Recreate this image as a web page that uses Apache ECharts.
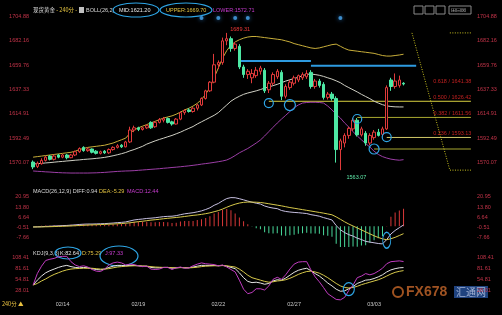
<!DOCTYPE html>
<html><head><meta charset="utf-8">
<script src="https://cdn.jsdelivr.net/npm/echarts@6/dist/echarts.min.js"></script>
<style>html,body{margin:0;padding:0;background:#000;}#c{width:502px;height:315px;}</style>
</head><body><div id="c"></div>
<script>
// ---------- DATA ----------
const slotCount = 105;
const dateTickIdx = [7, 25, 44, 62, 81];
const dateTickLabels = ['02/14', '02/19', '02/22', '02/27', '03/03'];

// candles: [open, close, low, high]
const candles = [
[1570.5,1566,1564,1572],[1566.5,1569.5,1565,1571],[1569,1572,1568,1574],[1572,1575,1571,1576],
[1576,1573,1572,1577],[1573,1576,1572,1577.5],[1577,1575,1574,1578],[1575,1577,1574,1578],
[1577,1574.5,1573,1578],[1574.5,1577,1574,1578],[1577,1580,1576,1581],[1580,1583,1579,1584],
[1584,1581,1580,1585],[1581,1582.5,1580,1584],[1582.5,1579.5,1578.5,1583],[1580.5,1578.5,1577.5,1581.5],
[1578.5,1580,1577.5,1581],[1580.5,1579,1578,1581.5],[1579,1582,1578,1583],[1582,1584,1581,1585],
[1584,1585.5,1583,1587],[1586,1584.5,1583.5,1587],[1584.5,1589,1584,1590],[1589,1600,1588,1603],
[1600,1602,1598,1604],[1602,1600.5,1599,1603],[1600.5,1602,1599.5,1603],[1602,1604,1601,1605],
[1607,1602,1601,1608],[1603,1607,1602,1608],[1607,1609.5,1606,1611],[1609,1610.5,1607,1612],
[1610.5,1607,1606,1611.5],[1607.5,1605.5,1604,1608.5],[1605.5,1610,1605,1611],[1610,1616,1609,1617],
[1616,1618,1614,1619],[1618.5,1617,1616,1620],[1617,1620,1616,1621],[1620,1623,1618,1624],
[1623,1629,1622,1630],[1629,1636,1628,1637],[1636,1644,1635,1645],[1644,1660,1643,1670],
[1660,1662,1656,1664],[1662,1682,1660,1685],[1682,1684,1678,1689.31],[1684,1675,1672,1686],
[1675,1679,1673,1681],[1677,1658,1656,1679],[1658,1651,1648,1660],[1651,1654,1647,1656],
[1648,1652,1643,1656],[1650,1655,1648,1658],[1654,1657,1651,1659],[1655,1636,1634,1657],
[1637,1643,1634,1645],[1643,1651,1641,1653],[1649,1654,1647,1656],[1653,1631,1627.5,1655],
[1631,1640,1629,1642],[1639,1644,1637,1646],[1643,1648,1641,1650],[1646,1650,1644,1651],
[1648,1651,1646,1653],[1649,1652,1647,1655],[1653,1640,1638,1655],[1640,1645,1638,1647],
[1645,1641,1639,1647],[1642,1630,1628,1644],[1630,1633,1628,1635],[1633,1629,1627,1635],
[1629,1582,1570,1631],[1582,1590,1563.07,1592],[1588,1595,1584,1597],[1595,1601.5,1592,1603],
[1601,1609,1599,1611],[1609,1595.5,1594,1611],[1595.5,1601,1594,1603],[1597,1588,1585.5,1599],
[1588,1595,1586,1597],[1593,1598,1591,1600],[1598,1595,1594,1601],[1596,1601,1594,1603],
[1601,1639,1600,1641],[1646,1640,1636,1648],[1640,1645,1638,1652],[1641,1646,1639,1650],
[1643,1642.3,1641,1644]
];

const bollUpper = [1575,1575.5,1576,1576.5,1577,1577.5,1578,1578.5,1579,1579.5,1580.5,1582,1583,1584,1584.5,1585,1585.5,1586,1587,1588,1589.5,1591,1592.5,1597,1600,1602,1603.5,1605,1606.5,1608,1609.5,1611,1612,1613,1614.5,1616.5,1618.5,1620,1622,1624.5,1628,1633,1639,1648,1657,1666,1673,1678,1681,1683,1684.5,1685.5,1686,1686,1685.5,1685,1684.5,1684,1683.5,1683,1682,1681,1679.5,1678.5,1677.5,1676.5,1675.5,1675,1675.5,1676.5,1677.5,1678.5,1679,1677,1675,1673.5,1673,1672.5,1672,1671.5,1671,1670.5,1669.5,1668.5,1668,1668,1668.5,1669,1669.7];
const bollMid = [1568.7,1569,1569.3,1569.7,1570,1570.4,1570.8,1571.1,1571.5,1571.8,1572.2,1572.5,1572.9,1573.2,1573.5,1573.9,1574.3,1574.8,1575.5,1576.3,1577.2,1578.2,1579.3,1580.8,1582,1583.5,1585,1587,1588.5,1590,1591.3,1592.5,1593.8,1595,1596.5,1598,1599.8,1601.5,1603.2,1605.5,1607.5,1609.5,1611.5,1613.5,1616,1619.5,1623,1626.5,1629,1631,1632.8,1634,1635,1636,1637.2,1638.5,1639.6,1640.8,1642,1643.5,1645,1646.2,1647.3,1648.5,1650,1651.2,1651.5,1651,1650.3,1649.3,1648,1646.8,1645.2,1643.5,1641,1639,1637,1635,1632.8,1630.8,1628.8,1626.5,1624.8,1623.3,1622.2,1621.6,1621.3,1621.2,1621.2];
const bollLower = [1562.3,1562,1561.8,1561.5,1561.3,1561,1560.8,1560.6,1560.5,1560.4,1560.4,1560.4,1560.4,1560.4,1560.5,1560.6,1560.8,1561,1561.3,1561.6,1561.9,1562.1,1562.3,1562.4,1562.6,1562.9,1563.2,1563.5,1563.8,1564.1,1564.4,1564.8,1565.1,1565.5,1565.8,1566.2,1566.6,1567,1567.5,1568,1568.6,1569.1,1569.6,1570.2,1570.8,1571.5,1572.4,1574.2,1576.5,1579,1581,1583,1585.5,1588,1590.8,1594.5,1598.5,1602.5,1606.4,1610,1613.5,1617,1620.5,1623,1624.8,1625.3,1625.5,1625.5,1625.3,1624.8,1622,1618.5,1614.5,1611,1606.5,1602.7,1598.5,1594.5,1591,1587.5,1584.3,1580.5,1577.5,1575.5,1574.2,1573.2,1572.6,1572.2,1572.71];

const macdDiff = [-0.5,-0.4,-0.3,-0.1,0,0.2,0.3,0.5,0.6,0.8,1.0,1.3,1.5,1.6,1.6,1.7,1.8,1.9,2.1,2.3,2.6,2.8,3.1,3.8,4.5,4.9,5.2,5.6,5.8,6.1,6.5,6.9,7.1,7.2,7.6,8.3,8.9,9.3,9.7,10.3,11.0,12.0,13.2,15.0,16.3,18.2,19.8,20.5,20.4,19.7,18.9,18.0,17.2,16.5,15.9,14.5,13.6,13.0,12.6,11.3,10.6,10.2,9.9,9.7,9.4,9.1,8.3,7.8,7.2,6.2,5.4,4.5,0.5,-2.5,-4.5,-6,-7,-8.5,-9.5,-10.8,-11.3,-11.8,-12.3,-12.6,-9.5,-5.5,-3.0,-1.0,0.94];
const macdDea = [-0.5,-0.48,-0.44,-0.38,-0.3,-0.2,-0.1,0,0.1,0.25,0.4,0.55,0.7,0.85,1.0,1.1,1.2,1.35,1.5,1.6,1.8,1.95,2.2,2.5,2.9,3.3,3.6,4.0,4.4,4.7,5.0,5.4,5.7,6.0,6.3,6.6,7.0,7.4,7.8,8.1,8.5,9.0,9.6,10.4,11.2,12.3,13.6,14.8,15.8,16.6,17.1,17.3,17.3,17.2,17.0,16.6,16.1,15.6,15.1,14.6,14.0,13.4,12.9,12.4,11.9,11.4,10.9,10.4,9.9,9.4,8.8,8.2,6.7,5.0,3.2,1.6,0.2,-1.2,-2.6,-4.0,-5.4,-6.8,-8.0,-9.0,-9.6,-8.9,-7.9,-6.6,-5.29];
const macdHist = [0,0.2,0.3,0.5,0.6,0.8,0.8,1,1,1.1,1.2,1.5,1.6,1.5,1.2,1.2,1.2,1.1,1.2,1.4,1.6,1.7,1.8,2.6,3.2,3.2,3.2,3.2,2.8,2.8,3,3,2.8,2.4,2.6,3.4,3.8,3.8,3.8,4.4,5,6,7.2,9.2,10.2,11.8,12.4,11.4,9.2,6.2,3.6,1.4,-0.2,-1.4,-2.2,-4.2,-5,-5.2,-5,-6.6,-6.8,-6.4,-6,-5.4,-5,-4.6,-5.2,-5.2,-5.4,-6.4,-6.8,-7.4,-12.4,-15,-15.4,-15.2,-14.4,-14.6,-13.8,-13.6,-11.8,-10,-8.6,-7.2,0.2,6.8,9.8,11.2,12.44];

const kdjK = [40,52,62,70,75,79,83,86,88,85,83,82,83,82,80,78,77,79,83,86,88,88,87,88,88,87,86,86,83,82,82,83,83,81,82,83,82,82,84,86,88,88,88,88,87,88,86,83,80,70,58,49,46,47,45,42,44,50,53,52,57,64,71,76,79,81,75,68,62,54,45,38,30,25,26,31,36,44,48,52,53,56,60,65,72,77,80,82,82.64];
const kdjD = [40,44,50,55,61,66,70,74,77,79,80,80.5,81,81,81,80,79,79,80,82,84,85,86,86.5,87,87,86.5,86,85,84,83.5,83,83,82.5,82,82.5,82.5,82,82.5,83.5,85,86,86.5,87,87,87.5,87,85.5,84,79,72,64,58,55,52,49,47,48,50,51,53,56.5,61,66,70,73,74,72,69,64,58,51,44,38,34,33,34,37,41,44,47,50,53,57,62,67,71,73.5,75.29];
const kdjJ = [40,68,86,100,103,105,109,110,110,97,89,85,87,84,78,74,73,79,89,94,96,94,89,91,90,87,85,86,79,78,79,83,83,78,82,84,81,82,87,91,94,92,91,90,87,89,84,78,72,52,30,19,22,31,31,28,38,54,59,54,65,79,91,96,97,97,77,60,48,34,19,12,5,4,10,27,40,58,62,68,65,68,74,81,92,97,98,99,97.33];

// axis tick texts
const mainTickLabels = ['', '1570.07', '1592.49', '1614.91', '1637.33', '1659.76', '1682.16', '1704.88'];
const macdTickLabels = ['', '-7.66', '-0.51', '6.64', '13.80', '20.95'];
const kdjTickLabels = ['', '28.01', '54.81', '81.61', '108.41'];

// annotations
const eventIdx = [40, 44, 48, 51, 73];
const fibNames = ['0.618', '0.500', '0.382', '0.236'];
const fibValues = [1641.38, 1626.42, 1611.56, 1593.13];
const fibFrom = [null, 56, 77, 84];
const fibColors = [null, '#d8d040', '#a8a830', '#d0c868'];
const extraLevel = {value: 1582.5, from: 81, color: '#a8a830'};
const blueLevels = [{value: 1663.4, from: 49, to: 66}, {value: 1659.1, from: 66, to: 91}];
const fibSwing = {highIdx: 90, high: 1689.31, lowIdx: 99, low: 1563.07, endIdx: 104};
const circleMarks = [[56, 1624.8, 9], [61, 1622.9, 11], [77, 1610.1, 9], [84, 1593.5, 9], [81, 1582.5, 10]];
const highMark = {idx: 46, value: 1689.31};
const lowMark = {idx: 73, value: 1563.07};

// ---------- CHART ----------
const chart = echarts.init(document.getElementById('c'), null, {renderer: 'canvas'});
const cats = Array.from({length: slotCount}, (_, i) => String(i));
const FONT = 'Liberation Sans, Arial, sans-serif';
const CJK = 'Noto Sans CJK SC';
const labelRed = '#c23348';
const circleBlue = '#2ea6e6';
const lastSlot = slotCount - 1;

function tickFormatter(min, step, labels) {
  return function (v) {
    const k = Math.round((v - min) / step);
    if (Math.abs(v - (min + k * step)) > step * 0.05) return '';
    return labels[k] || '';
  };
}
function yAx(gridIndex, pos, min, max, step, labels) {
  return {
    type: 'value', gridIndex, position: pos, min, max, interval: step, scale: true,
    axisLine: {show: false}, axisTick: {show: false}, splitLine: {show: false},
    axisLabel: {color: labelRed, fontSize: 5.5, fontFamily: FONT, margin: pos === 'left' ? 2 : 4,
      formatter: tickFormatter(min, step, labels)}
  };
}
function xAx(gridIndex, showLabel) {
  return {
    type: 'category', gridIndex, data: cats, boundaryGap: true,
    axisLine: {show: false}, axisTick: {show: false}, splitLine: {show: false},
    axisLabel: {show: showLabel, interval: 0, color: '#c8c8c8', fontSize: 5.5, fontFamily: FONT, margin: 0,
      formatter: (v, i) => { const k = dateTickIdx.indexOf(i); return k >= 0 ? dateTickLabels[k] : ''; }}
  };
}
const segLine = (pts, color, width, type) => ({
  type: 'line', xAxisIndex: 0, yAxisIndex: 0, data: pts, symbol: 'none', silent: true, z: 2,
  lineStyle: {color, width, type: type || 'solid'}, itemStyle: {color}
});

const levelSeries = [];
fibValues.forEach((v, k) => { if (fibFrom[k] != null) levelSeries.push(segLine([[fibFrom[k], v], [lastSlot, v]], fibColors[k], 1)); });
levelSeries.push(segLine([[extraLevel.from, extraLevel.value], [lastSlot, extraLevel.value]], extraLevel.color, 1));
blueLevels.forEach(b => levelSeries.push(segLine([[b.from, b.value], [b.to, b.value]], '#2e9be0', 2)));
const dotType = [1, 1.5];
levelSeries.push(segLine([[fibSwing.highIdx, fibSwing.high], [fibSwing.lowIdx, fibSwing.low], [fibSwing.endIdx, fibSwing.low]], '#c8c020', 1, dotType));
levelSeries.push(segLine([[fibSwing.lowIdx, fibSwing.high], [fibSwing.endIdx, fibSwing.high]], '#c8c020', 1, dotType));
// fib level labels
levelSeries.push({
  type: 'scatter', xAxisIndex: 0, yAxisIndex: 0, silent: true, symbolSize: 1, z: 6,
  itemStyle: {color: 'rgba(0,0,0,0)'},
  data: fibValues.map((v, k) => ({value: [lastSlot, v], name: fibNames[k]})),
  label: {show: true, position: 'left', distance: 0, offset: [1, -4], color: '#f02828', fontSize: 5.5, fontFamily: FONT,
    formatter: p => p.name + ' / ' + p.value[1].toFixed(2)}
});

const ringStyle = {color: 'rgba(0,0,0,0)', borderColor: circleBlue, borderWidth: 1.2};
const mpData = circleMarks.map(c => ({coord: [c[0], c[1]], symbol: 'circle', symbolSize: c[2], itemStyle: ringStyle, label: {show: false}}));
mpData.push({coord: [highMark.idx, highMark.value], symbol: 'circle', symbolSize: 1, itemStyle: {color: 'rgba(0,0,0,0)'},
  label: {show: true, formatter: highMark.value.toFixed(2), color: '#f03838', fontSize: 5.5, fontFamily: FONT, position: 'right', offset: [-2, -3]}});
mpData.push({coord: [lowMark.idx, lowMark.value], symbol: 'circle', symbolSize: 1, itemStyle: {color: 'rgba(0,0,0,0)'},
  label: {show: true, formatter: lowMark.value.toFixed(2), color: '#5ee8a8', fontSize: 5.5, fontFamily: FONT, position: 'bottom', offset: [16, -1]}});

const lineS = (name, data, color, xi, yi, extra) => Object.assign({
  name, type: 'line', data, xAxisIndex: xi, yAxisIndex: yi, symbol: 'none', smooth: false,
  lineStyle: {color, width: 1}, itemStyle: {color}, silent: true, z: 3
}, extra || {});

const option = {
  backgroundColor: '#000',
  animation: false,
  grid: [
    {left: 31, right: 29, top: 11.5, height: 175.4},
    {left: 31, right: 29, top: 194.1, height: 52.9},
    {left: 31, right: 29, top: 254.3, height: 46.7}
  ],
  xAxis: [xAx(0, false), xAx(1, false), xAx(2, true)],
  yAxis: [
    yAx(0, 'left', 1547.65, 1709, 22.42, mainTickLabels),
    yAx(0, 'right', 1547.65, 1709, 22.42, mainTickLabels),
    yAx(1, 'left', -14.81, 23, 7.15, macdTickLabels),
    yAx(1, 'right', -14.81, 23, 7.15, macdTickLabels),
    yAx(2, 'left', 1.21, 115, 26.8, kdjTickLabels),
    yAx(2, 'right', 1.21, 115, 26.8, kdjTickLabels)
  ],
  series: [
    {type: 'candlestick', data: candles, xAxisIndex: 0, yAxisIndex: 0, barWidth: 3, z: 4,
     itemStyle: {color: '#000', color0: '#4de8a4', borderColor: '#e03a3a', borderColor0: '#4de8a4', borderWidth: 1},
     markPoint: {silent: true, data: mpData, animation: false}},
    lineS('upper', bollUpper, '#c8ae3a', 0, 0),
    lineS('mid', bollMid, '#cfcfc4', 0, 0),
    lineS('lower', bollLower, '#9c3ea6', 0, 0),
    ...levelSeries,
    {type: 'scatter', xAxisIndex: 0, yAxisIndex: 0, data: eventIdx.map(i => [i, 1703]), symbolSize: 4,
     itemStyle: {color: '#4aa8f0', shadowColor: '#2a80d0', shadowBlur: 4}, silent: true},
    {type: 'bar', data: macdHist.map(v => ({value: v, itemStyle: {color: v >= 0 ? '#d83838' : '#48d89a'}})),
     xAxisIndex: 1, yAxisIndex: 2, barWidth: 1, silent: true},
    lineS('diff', macdDiff, '#c6bfe0', 1, 2),
    lineS('dea', macdDea, '#d6c84a', 1, 2, {markPoint: {silent: true, data: [{coord: [84, -10], symbol: 'circle', symbolSize: [8, 16], itemStyle: ringStyle}]}}),
    lineS('K', kdjK, '#e4e4e4', 2, 4, {markPoint: {silent: true, data: [{coord: [75, 30], symbol: 'circle', symbolSize: [11, 13], itemStyle: ringStyle}]}}),
    lineS('D', kdjD, '#d6c84a', 2, 4),
    lineS('J', kdjJ, '#c03cc0', 2, 4)
  ],
  graphic: [
    {type: 'text', x: 33, y: 10, style: {
      text: '{w|现货黄金}{y| - 240分 - }', fontSize: 5.5, verticalAlign: 'middle',
      rich: {w: {fill: '#d8d8d8', fontSize: 5.5, fontFamily: CJK}, y: {fill: '#e0c040', fontSize: 5.5, fontFamily: CJK}}}},
    {type: 'rect', shape: {x: 79, y: 7, width: 5, height: 6}, style: {fill: '#c0c0c0'}},
    {type: 'text', x: 86, y: 10, style: {text: 'BOLL(26,2)', fill: '#d8d8d8', fontSize: 5.5, fontFamily: FONT, verticalAlign: 'middle'}},
    {type: 'text', x: 119, y: 10, style: {text: 'MID:1621.20', fill: '#e8e8e8', fontSize: 5.5, fontFamily: FONT, verticalAlign: 'middle'}},
    {type: 'text', x: 166, y: 10, style: {text: 'UPPER:1669.70', fill: '#e0c040', fontSize: 5.5, fontFamily: FONT, verticalAlign: 'middle'}},
    {type: 'text', x: 213, y: 10, style: {text: 'LOWER:1572.71', fill: '#c83cd0', fontSize: 5.5, fontFamily: FONT, verticalAlign: 'middle'}},
    {type: 'ellipse', shape: {cx: 136, cy: 10, rx: 23, ry: 7}, style: {fill: 'none', stroke: circleBlue, lineWidth: 1.2}},
    {type: 'ellipse', shape: {cx: 186, cy: 10, rx: 26, ry: 7}, style: {fill: 'none', stroke: circleBlue, lineWidth: 1.2}},
    {type: 'text', x: 33, y: 191, style: {text: 'MACD(26,12,9) DIFF:0.94', fill: '#d8d8d8', fontSize: 5.5, fontFamily: FONT, verticalAlign: 'middle'}},
    {type: 'text', x: 99, y: 191, style: {text: 'DEA:-5.29', fill: '#e0c040', fontSize: 5.5, fontFamily: FONT, verticalAlign: 'middle'}},
    {type: 'text', x: 127, y: 191, style: {text: 'MACD:12.44', fill: '#c83cd0', fontSize: 5.5, fontFamily: FONT, verticalAlign: 'middle'}},
    {type: 'text', x: 33, y: 253, style: {text: 'KDJ(9,3,3)', fill: '#d8d8d8', fontSize: 5.5, fontFamily: FONT, verticalAlign: 'middle'}},
    {type: 'text', x: 60, y: 253, style: {text: 'K:82.64', fill: '#e8e8e8', fontSize: 5.5, fontFamily: FONT, verticalAlign: 'middle'}},
    {type: 'text', x: 82, y: 253, style: {text: 'D:75.29', fill: '#e0c040', fontSize: 5.5, fontFamily: FONT, verticalAlign: 'middle'}},
    {type: 'text', x: 105, y: 253, style: {text: 'J:97.33', fill: '#c83cd0', fontSize: 5.5, fontFamily: FONT, verticalAlign: 'middle'}},
    {type: 'ellipse', shape: {cx: 68, cy: 253, rx: 13, ry: 6}, style: {fill: 'none', stroke: circleBlue, lineWidth: 1.2}},
    {type: 'ellipse', shape: {cx: 119, cy: 256, rx: 19, ry: 10}, style: {fill: 'none', stroke: circleBlue, lineWidth: 1.2}},
    {type: 'text', x: 2, y: 304, style: {text: '240分 ▲', fill: '#e8c040', fontSize: 5.5, fontFamily: CJK, verticalAlign: 'middle'}},
    // toolbar
    {type: 'rect', shape: {x: 414, y: 6, width: 9, height: 8}, style: {fill: 'none', stroke: '#8a8a8a', lineWidth: 1}},
    {type: 'rect', shape: {x: 425, y: 6, width: 9, height: 8}, style: {fill: 'none', stroke: '#8a8a8a', lineWidth: 1}},
    {type: 'rect', shape: {x: 436, y: 6, width: 9, height: 8}, style: {fill: 'none', stroke: '#8a8a8a', lineWidth: 1}},
    {type: 'rect', shape: {x: 449, y: 6, width: 22, height: 8}, style: {fill: 'none', stroke: '#8a8a8a', lineWidth: 1}},
    {type: 'text', x: 451, y: 10, style: {text: '⊞⊟⊠', fill: '#a0a0a0', fontSize: 6, fontFamily: 'DejaVu Sans', verticalAlign: 'middle'}},
    // watermark
    {type: 'circle', shape: {cx: 398, cy: 292, r: 5}, style: {fill: 'none', stroke: '#c86828', lineWidth: 2, opacity: 0.8}},
    {type: 'text', x: 406, y: 292, style: {text: 'FX678', fill: '#c8682a', fontSize: 14, fontWeight: 'bold', fontFamily: FONT, verticalAlign: 'middle', opacity: 0.8}},
    {type: 'text', x: 454, y: 292, style: {text: '汇通网', fill: '#d0d8f0', fontSize: 10, fontFamily: CJK, verticalAlign: 'middle', backgroundColor: '#2a58a8', padding: [1, 2], opacity: 0.75}}
  ]
};
chart.setOption(option);
</script>
</body></html>
